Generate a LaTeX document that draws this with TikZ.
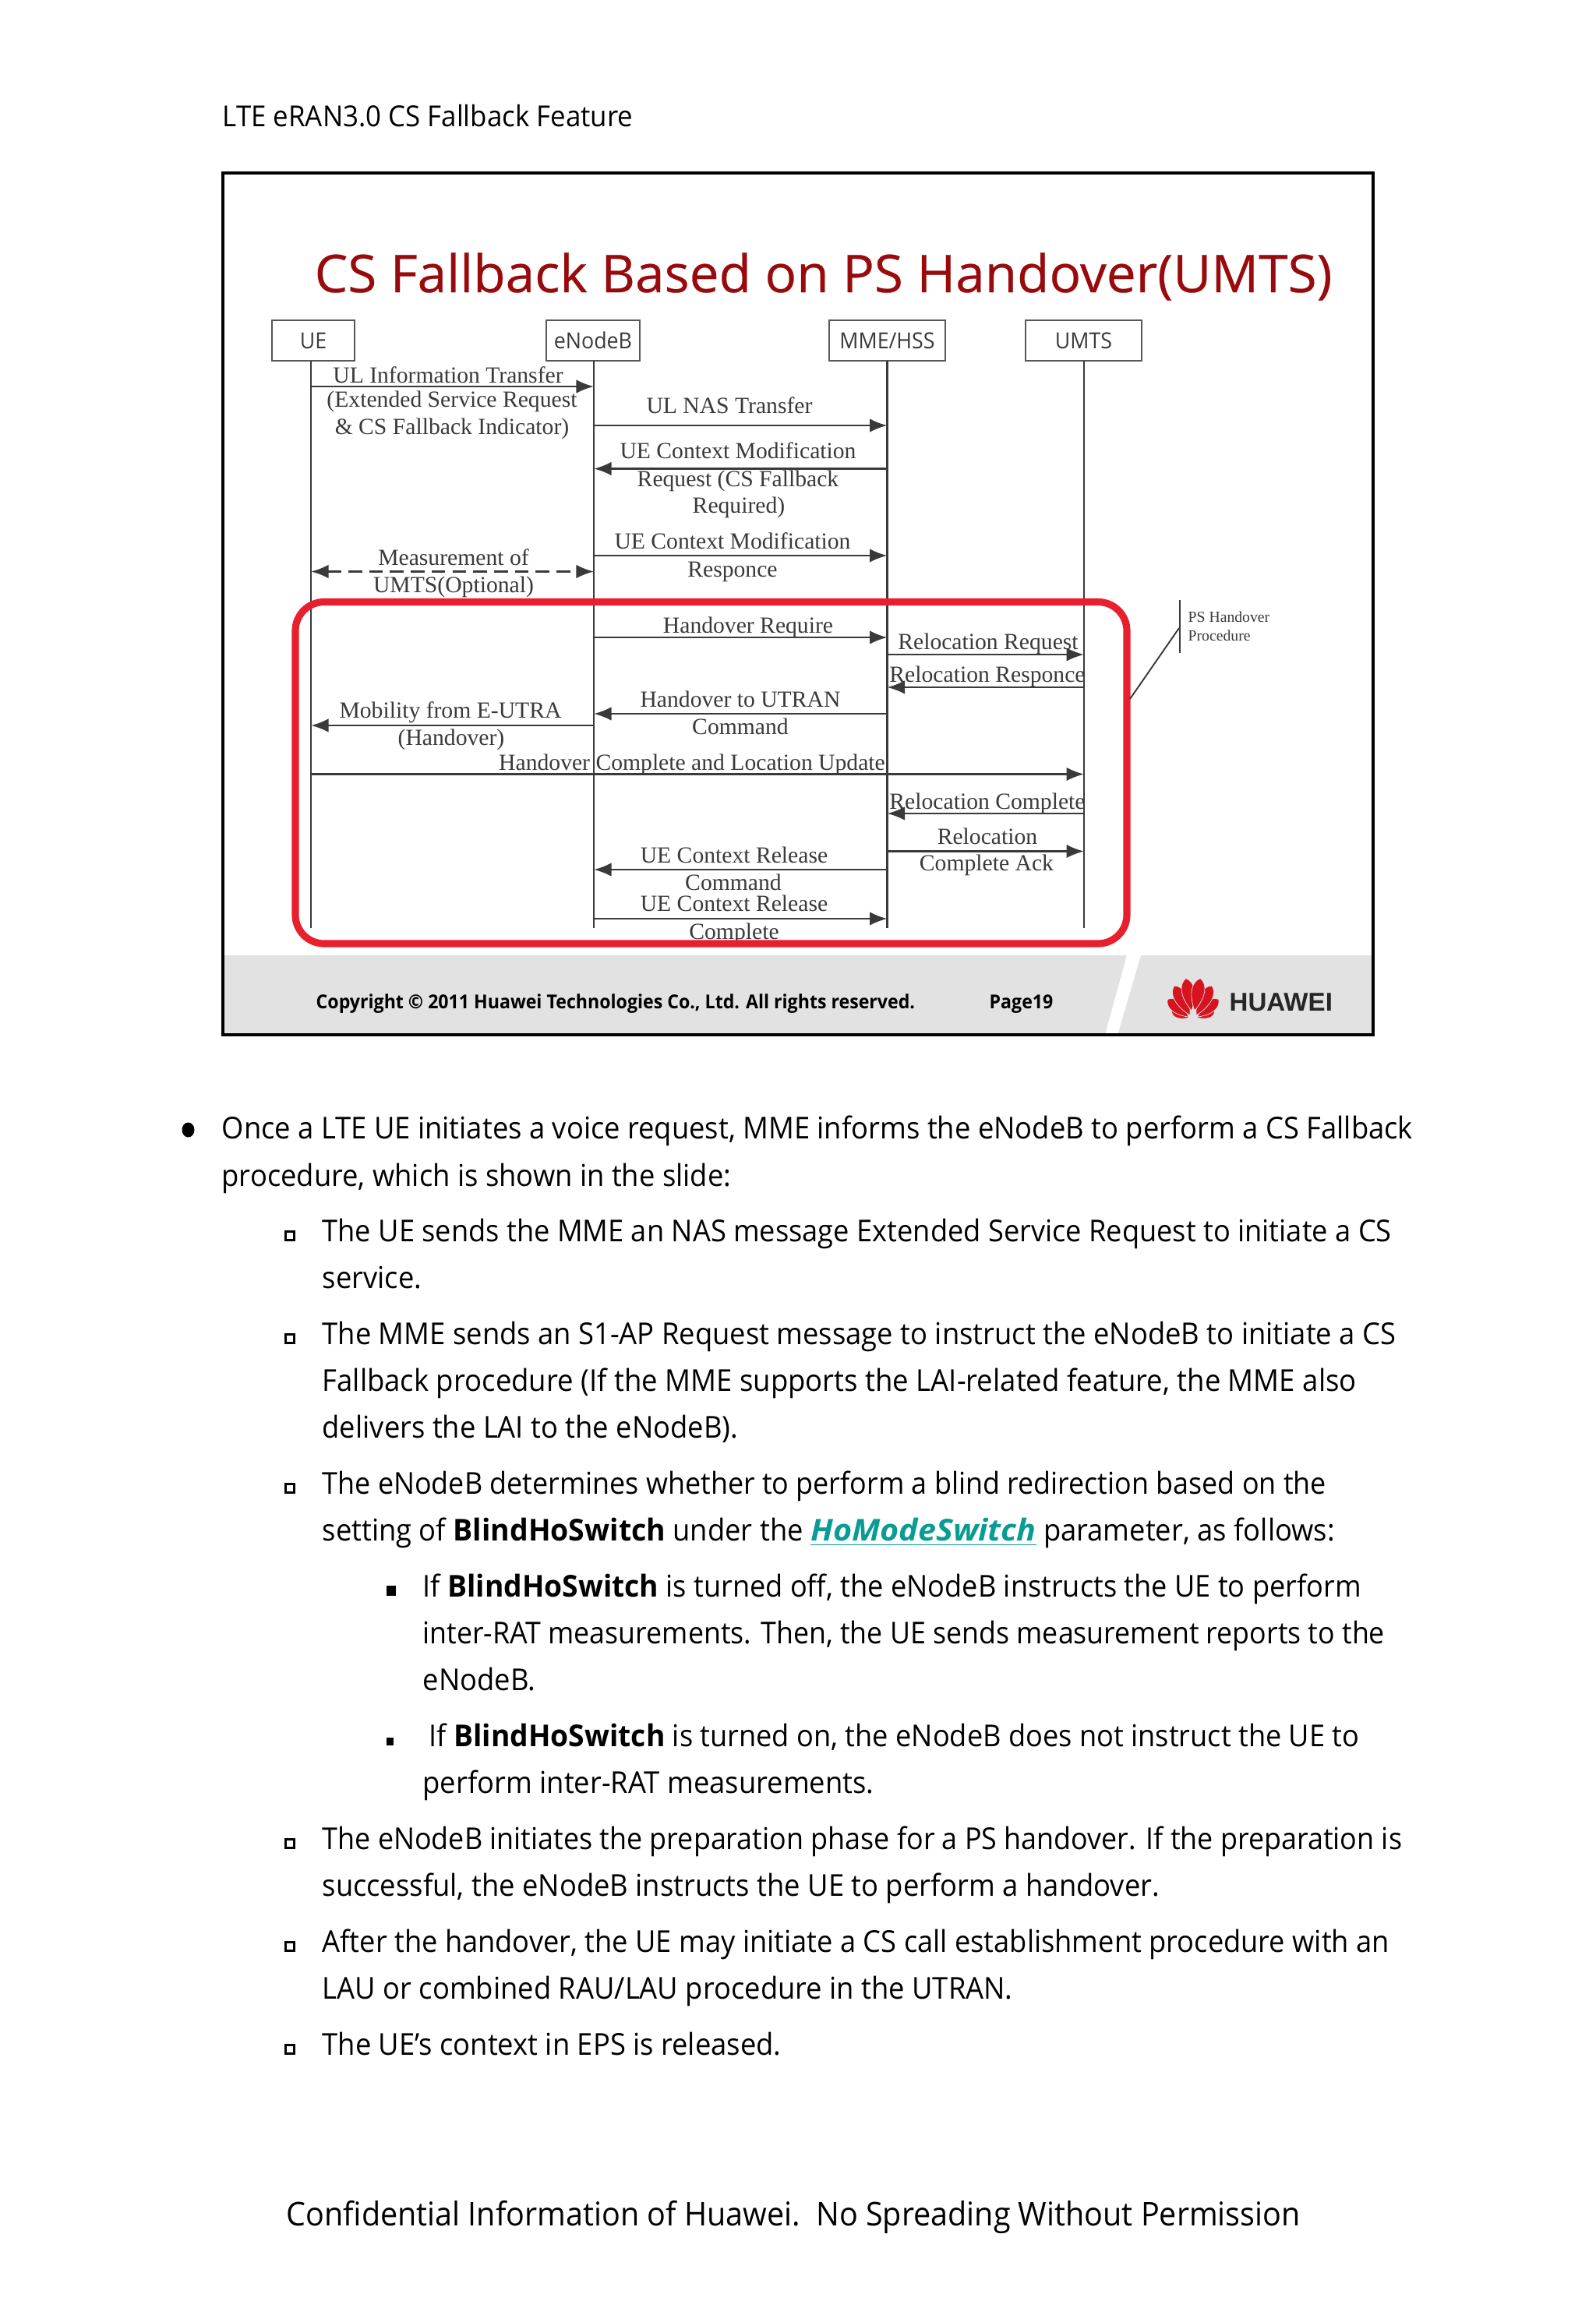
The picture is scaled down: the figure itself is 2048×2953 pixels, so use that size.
\documentclass[tikz,border=0pt]{standalone}
\usepackage{fontspec}
\usepackage{graphicx}
\usetikzlibrary{arrows.meta,positioning}
\setmainfont[FakeStretch=0.94]{Open Sans}
\newfontfamily\serifdg{Liberation Serif}
\newfontfamily\sansdg{Liberation Sans}
\newfontfamily\titlef[FakeStretch=1.01,FakeBold=0.35]{Open Sans}
\definecolor{titlered}{HTML}{990A0C}
\definecolor{boxred}{HTML}{E8202E}
\definecolor{foot}{HTML}{E2E2E2}
\definecolor{ink}{HTML}{3A3A3A}
\definecolor{linkteal}{HTML}{0A9C93}
\definecolor{logored}{HTML}{D5141F}
\tikzset{
 frame/.style={draw=black,line width=1.05pt},
 actor/.style={draw=ink!85,line width=0.7pt,fill=white,inner sep=0pt,minimum height=14.8pt,font=\fontsize{8.1}{9}\selectfont,text=ink},
 life/.style={draw=ink,line width=0.6pt},
 msg/.style={draw=ink,line width=0.75pt,-{Latex[length=6.4pt,width=5pt]}},
 dmsg/.style={draw=ink,line width=0.75pt,dashed,dash pattern=on 5pt off 2.6pt,{Latex[length=6.4pt,width=5pt]}-{Latex[length=6.4pt,width=5pt]}},
 lbl/.style={anchor=base,inner sep=0pt,text=ink,font=\serifdg\fontsize{8.43}{10}\selectfont},
 bodyt/.style={anchor=base west,inner sep=0pt,text=black,font=\fontsize{11}{13}\selectfont},
 sq/.style={draw=black,line width=0.85pt,inner sep=0pt,minimum size=3.3pt,fill=white},
}
\newcommand\lab[4]{\node[lbl] (#1) at (#2,#3) {#4};}
\newcommand\bl[4]{\node[bodyt] (#1) at (#2,#3) {#4};}
\newcommand\blx[5]{\node[bodyt] (#1) at (#2,#3) {\scalebox{#4}[1]{#5}};}
\newcommand\msgr[3]{\draw[msg] (#1 |- 0,#3) -- (#2 |- 0,#3);}
\newcommand\bhs{\scalebox{1.03}[1]{\textbf{BlindHoSwitch}}}
% petal: base point, angle, length, control offset
\newcommand\petal[4]{\path[fill=logored,draw=foot,line width=0.2pt,shift={(#1)},rotate=#2] (0,0) .. controls (-#4,-0.45*#3) and (-#4,-0.85*#3) .. (0,-#3) .. controls (#4,-0.85*#3) and (#4,-0.45*#3) .. (0,0);}
\begin{document}
\begin{tikzpicture}[x=0.01cm,y=-0.01cm]
\path[fill=white,use as bounding box] (0,0) rectangle (2048,2953);

\node[bodyt,font=\fontsize{10.55}{12}\selectfont] (hdr) at (285,162) {LTE eRAN3.0 CS Fallback Feature};

% slide
\fill[foot] (286,1226) rectangle (1762,1328);
\fill[white] (1446,1226) -- (1464,1226) -- (1434,1328) -- (1418,1328) -- cycle;
\draw[frame] (286,222) rectangle (1762,1328);

\node[anchor=base west,inner sep=0pt,text=titlered,font=\titlef\fontsize{19}{22}\selectfont] (title) at (403,375) {CS Fallback Based on PS Handover(UMTS)};

% actors
\node[actor,minimum width=106pt*0.2845] (ue) at (402,437) {UE};
\node[actor,minimum width=120pt*0.2845] (enb) at (761,437) {eNodeB};
\node[actor,minimum width=149pt*0.2845] (mme) at (1138.5,437) {MME/HSS};
\node[actor,minimum width=149pt*0.2845] (umts) at (1390.5,437) {UMTS};
\coordinate (ueT) at (399,463); \coordinate (ueB) at (399,1191);
\coordinate (enbT) at (762,463); \coordinate (enbB) at (762,1191);
\coordinate (mmeT) at (1138.5,463); \coordinate (mmeB) at (1138.5,1191);
\coordinate (umtsT) at (1391,463); \coordinate (umtsB) at (1391,1191);
\draw[life] (ueT) -- (ueB);
\draw[life] (enbT) -- (enbB);
\draw[life] (mmeT) -- (mmeB);
\draw[life] (umtsT) -- (umtsB);

% messages
\msgr{ueT}{enbT}{496}
\msgr{enbT}{mmeT}{546}
\msgr{mmeT}{enbT}{601.5}
\msgr{enbT}{mmeT}{713}
\draw[dmsg] (ueT |- 0,733.5) -- (enbT |- 0,733.5);
\msgr{enbT}{mmeT}{818}
\msgr{mmeT}{umtsT}{840}
\msgr{umtsT}{mmeT}{882}
\msgr{mmeT}{enbT}{916}
\msgr{enbT}{ueT}{931}
\msgr{ueT}{umtsT}{993.5}
\msgr{umtsT}{mmeT}{1044}
\msgr{mmeT}{umtsT}{1092.5}
\msgr{mmeT}{enbT}{1116}
\msgr{enbT}{mmeT}{1179}

% labels
\lab{l1}{575}{491}{UL Information Transfer}
\lab{l2}{580}{522}{(Extended Service Request}
\lab{l3}{580}{557}{\& CS Fallback Indicator)}
\lab{l4}{936}{530}{UL NAS Transfer}
\lab{l5}{947}{588}{UE Context Modification}
\lab{l6}{947}{624}{Request (CS Fallback}
\lab{l7}{948}{658.5}{Required)}
\lab{l8}{940}{704}{UE Context Modification}
\lab{l9}{940}{740}{Responce}
\lab{l10}{582}{725}{Measurement of}
\lab{l11}{582}{760}{UMTS(Optional)}
\lab{l12}{960}{812}{Handover Require}
\lab{l13}{950}{907}{Handover to UTRAN}
\lab{l14}{950}{942.5}{Command}
\lab{l15}{578}{921}{Mobility from E-UTRA}
\lab{l16}{579}{956}{(Handover)}
\lab{l17}{888}{988}{Handover Complete and Location Update}
\lab{l18}{942}{1107}{UE Context Release}
\lab{l19}{941}{1142.5}{Command}
\lab{l20}{942}{1169}{UE Context Release}
\lab{l21}{942}{1205}{Complete}
\lab{l22}{1268}{833}{Relocation Request}
\lab{l23}{1267}{875}{Relocation Responce}
\lab{l24}{1267}{1038}{Relocation Complete}
\lab{l25}{1267}{1083}{Relocation}
\lab{l26}{1266}{1117.5}{Complete Ack}

% red box and callout
\draw[boxred,line width=2.6pt,rounded corners=10.5pt] (379,772.5) rectangle (1446,1211);
\coordinate (brT) at (1514,770); \coordinate (brB) at (1514,838);
\coordinate (brM) at (1513,806); \coordinate (redP) at (1450,897);
\draw[ink,line width=0.8pt] (brT) -- (brB);
\draw[ink,line width=0.55pt] (redP) -- (brM);
\node[lbl,anchor=base west,font=\serifdg\fontsize{5.6}{7}\selectfont] (ps1) at (1524,798) {PS Handover};
\node[lbl,anchor=base west,font=\serifdg\fontsize{5.6}{7}\selectfont] (ps2) at (1524,822) {Procedure};

% footer text
\node[anchor=base west,inner sep=0pt,text=black,font=\bfseries\fontsize{7.0}{8}\selectfont] (copy) at (405,1294) {Copyright © 2011 Huawei Technologies Co., Ltd. All rights reserved.};
\node[anchor=base west,inner sep=0pt,text=black,font=\bfseries\fontsize{7.0}{8}\selectfont] (page) at (1269,1294) {Page19};
\node[anchor=base west,inner sep=0pt,text=black!85,font=\sansdg\bfseries\fontsize{9.4}{11}\selectfont] (hw) at (1577,1297) {HUAWEI};

% logo
\petal{1526,1306}{71}{24}{7}
\petal{1536,1306}{-71}{24}{7}
\petal{1525,1305}{50}{35}{10}
\petal{1537,1305}{-50}{35}{10}
\petal{1527,1303}{28}{43}{11}
\petal{1535,1303}{-28}{43}{11}
\petal{1529,1297}{10}{42}{11}
\petal{1533,1297}{-10}{42}{11}

% body
\fill[black] (241.5,1450) ellipse (8 and 9.5) node (b0) {};
\bl{t1}{284}{1461}{Once a LTE UE initiates a voice request, MME informs the eNodeB to perform a CS Fallback}
\bl{t2}{284}{1522}{procedure, which is shown in the slide:}
\node[sq] (s1) at (372,1586) {};
\blx{t3}{413}{1593}{0.996}{The UE sends the MME an NAS message Extended Service Request to initiate a CS}
\bl{t4}{413}{1653}{service.}
\node[sq] (s2) at (372,1718) {};
\bl{t5}{413}{1725}{The MME sends an S1-AP Request message to instruct the eNodeB to initiate a CS}
\blx{t6}{413}{1785}{1.004}{Fallback procedure (If the MME supports the LAI-related feature, the MME also}
\bl{t7}{413}{1845}{delivers the LAI to the eNodeB).}
\node[sq] (s3) at (372,1910) {};
\blx{t8}{413}{1917}{0.987}{The eNodeB determines whether to perform a blind redirection based on the}
\bl{t9}{413}{1977}{setting of \bhs{} under the {\color{linkteal}\underline{\scalebox{1.135}[1]{\textbf{\textit{HoModeSwitch}}}}} parameter, as follows:}
\fill[black] (496,2035) rectangle (508,2048);
\blx{t10}{542}{2049}{0.994}{If \bhs{} is turned off, the eNodeB instructs the UE to perform}
\blx{t11}{542}{2109}{0.983}{inter-RAT measurements. Then, the UE sends measurement reports to the}
\bl{t12}{542}{2169}{eNodeB.}
\fill[black] (496,2230) rectangle (505,2240);
\blx{t13}{550}{2241}{0.995}{If \bhs{} is turned on, the eNodeB does not instruct the UE to}
\bl{t14}{542}{2301}{perform inter-RAT measurements.}
\node[sq] (s4) at (372,2366) {};
\blx{t15}{413}{2373}{0.987}{The eNodeB initiates the preparation phase for a PS handover. If the preparation is}
\bl{t16}{413}{2433}{successful, the eNodeB instructs the UE to perform a handover.}
\node[sq] (s5) at (372,2498) {};
\blx{t17}{413}{2505}{0.997}{After the handover, the UE may initiate a CS call establishment procedure with an}
\bl{t18}{413}{2565}{LAU or combined RAU/LAU procedure in the UTRAN.}
\node[sq] (s6) at (372,2630) {};
\bl{t19}{413}{2637}{The UE’s context in EPS is released.}

\node[bodyt,font=\fontsize{11.95}{14}\selectfont] (ftr) at (367,2856) {Confidential Information of Huawei.\ \ No Spreading Without Permission};
\end{tikzpicture}
\end{document}
